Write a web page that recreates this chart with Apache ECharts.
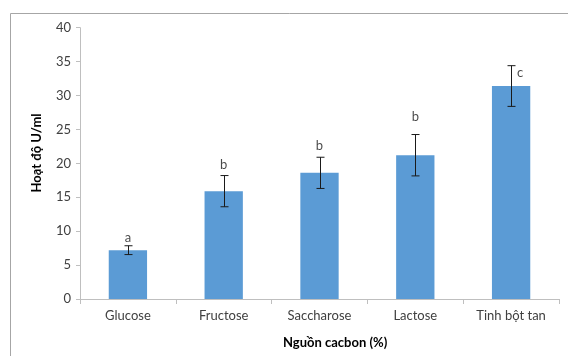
<!DOCTYPE html>
<html><head><meta charset="utf-8">
<script src="https://cdn.jsdelivr.net/npm/echarts@6/dist/echarts.min.js"></script>
<style>html,body{margin:0;padding:0;background:#fff}#c{width:568px;height:356px}</style>
</head><body><div id="c"></div>
<script>
const categories = ['Glucose', 'Fructose', 'Saccharose', 'Lactose', 'Tinh bột tan'];
const values = [7.2, 15.9, 18.6, 21.2, 31.4];
const errors = [0.65, 2.3, 2.3, 3.05, 3.0];
const letters = ['a', 'b', 'b', 'b', 'c'];
const letterY = [9.0, 19.8, 22.6, 26.9, 33.4];
const yTicks = { min: 0, max: 40, interval: 5 };

const FONT = 'Lato';
const chart = echarts.init(document.getElementById('c'), null, { renderer: 'canvas' });
chart.setOption({
  animation: false,
  backgroundColor: '#fff',
  grid: { left: 80, right: 9, top: 27.7, bottom: 57 },
  graphic: [
    { type: 'rect', shape: { x: 10.5, y: 13.5, width: 700, height: 500 }, style: { fill: 'none', stroke: '#a6a6a6', lineWidth: 1 }, silent: true },
    { type: 'text', left: 283, top: 336, style: { text: 'Nguồn cacbon (%)', font: 'bold 13px ' + FONT, fill: '#000' } },
    { type: 'text', x: 37, y: 153, rotation: Math.PI / 2, style: { text: 'Hoạt độ U/ml', font: 'bold 13px ' + FONT, fill: '#000', align: 'center', verticalAlign: 'middle' } }
  ],
  xAxis: {
    type: 'category', data: categories, boundaryGap: true,
    axisLine: { lineStyle: { color: '#bfbfbf' } },
    axisTick: { show: true, length: 5, lineStyle: { color: '#bfbfbf' } },
    axisLabel: { color: '#404040', fontFamily: FONT, fontSize: 13, margin: 10 }
  },
  yAxis: {
    type: 'value', min: yTicks.min, max: yTicks.max, interval: yTicks.interval,
    splitLine: { show: false },
    axisLine: { show: true, lineStyle: { color: '#bfbfbf' } },
    axisTick: { show: true, length: 4, lineStyle: { color: '#bfbfbf' } },
    axisLabel: { color: '#404040', fontFamily: FONT, fontSize: 13, margin: 9 }
  },
  series: [
    { type: 'bar', data: values, barWidth: '40%', itemStyle: { color: '#5b9bd5' } },
    {
      type: 'custom', z: 5,
      data: values.map((v, i) => [i, v - errors[i], v + errors[i]]),
      renderItem: function (params, api) {
        const lo = api.coord([api.value(0), api.value(1)]);
        const hi = api.coord([api.value(0), api.value(2)]);
        const x = Math.round(lo[0]) + 0.5, w = 4;
        const st = { stroke: '#1a1a1a', lineWidth: 1 };
        return { type: 'group', children: [
          { type: 'line', shape: { x1: x, y1: lo[1], x2: x, y2: hi[1] }, style: st },
          { type: 'line', shape: { x1: x - w, y1: lo[1], x2: x + w, y2: lo[1] }, style: st },
          { type: 'line', shape: { x1: x - w, y1: hi[1], x2: x + w, y2: hi[1] }, style: st }
        ]};
      }
    },
    {
      type: 'scatter', symbolSize: 0, z: 6,
      data: letterY.map((y, i) => ({
        value: [i, y],
        label: i === 4 ? { position: 'right', distance: 6 } : {}
      })),
      label: { show: true, position: 'inside', formatter: p => letters[p.dataIndex], color: '#1a1a1a', fontFamily: FONT, fontSize: 13 }
    }
  ]
});
</script></body></html>
